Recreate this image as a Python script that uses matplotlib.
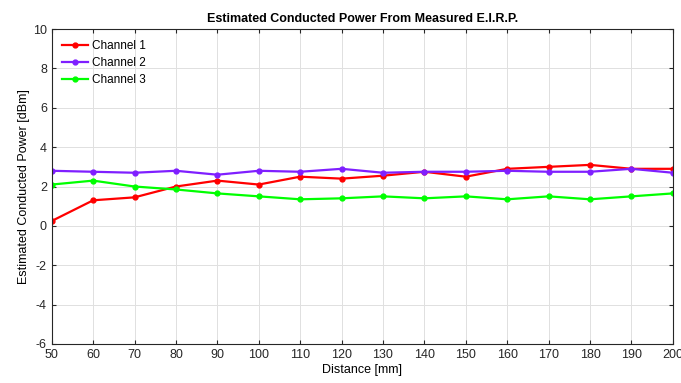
import matplotlib
matplotlib.use("Agg")
import matplotlib.pyplot as plt

# ---- data ----
distance = [50, 60, 70, 80, 90, 100, 110, 120, 130, 140, 150, 160, 170, 180, 190, 200]
channel_1 = [0.25, 1.3, 1.45, 2.0, 2.3, 2.1, 2.5, 2.4, 2.55, 2.75, 2.5, 2.9, 3.0, 3.1, 2.9, 2.9]
channel_2 = [2.8, 2.75, 2.7, 2.8, 2.6, 2.8, 2.75, 2.9, 2.7, 2.75, 2.75, 2.8, 2.75, 2.75, 2.9, 2.7]
channel_3 = [2.1, 2.3, 2.0, 1.85, 1.65, 1.5, 1.35, 1.4, 1.5, 1.4, 1.5, 1.35, 1.5, 1.35, 1.5, 1.65]
series_labels = ["Channel 1", "Channel 2", "Channel 3"]
colors = ["#ff0000", "#7f1fff", "#00ff00"]

plt.rcParams["font.family"] = ["Liberation Sans", "DejaVu Sans"]
plt.rcParams["axes.unicode_minus"] = False

fig = plt.figure(figsize=(6.81, 3.83), dpi=100)
ax = fig.add_axes([0.076, 0.102, 0.912, 0.822])

for ys, lab, c in zip([channel_1, channel_2, channel_3], series_labels, colors):
    ax.plot(distance, ys, color=c, linewidth=1.6, marker="o", markersize=3.5, label=lab)

ax.set_xlim(50, 200)
ax.set_ylim(-6, 10)
ax.set_xticks(distance)
ax.set_yticks(range(-6, 11, 2))
ax.tick_params(direction="in", labelsize=9, length=3, colors="#262626",
               top=True, right=True)
ax.grid(True, color="#e0e0e0", linewidth=0.7)
for sp in ax.spines.values():
    sp.set_color("#262626")
    sp.set_linewidth(0.8)

ax.set_title("Estimated Conducted Power From Measured E.I.R.P.", fontsize=9, fontweight="bold", pad=5)
ax.set_xlabel("Distance [mm]", fontsize=9, labelpad=2)
ax.set_ylabel("Estimated Conducted Power [dBm]", fontsize=9, labelpad=2)

ax.legend(loc="upper left", frameon=False, fontsize=8.5, handlelength=2.2,
          borderaxespad=0.5, labelspacing=0.45, handletextpad=0.3)

fig.savefig("out.png", dpi=100)
